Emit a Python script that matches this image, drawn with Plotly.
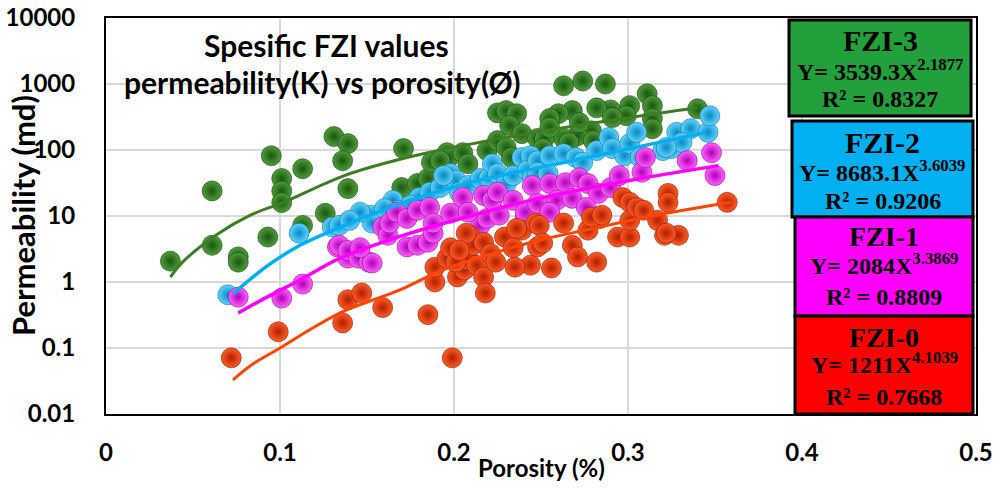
import plotly.graph_objects as go

# ---------------- data ----------------
fzi3_x = [0.037, 0.061, 0.061, 0.076, 0.076, 0.093, 0.095, 0.101, 0.101, 0.101, 0.113, 0.113, 0.126,
          0.131, 0.139, 0.136, 0.139, 0.171, 0.170, 0.179, 0.185, 0.187, 0.196, 0.197, 0.205, 0.208,
          0.192, 0.219, 0.225, 0.225, 0.230, 0.236, 0.232, 0.239, 0.230, 0.233, 0.248, 0.263, 0.274,
          0.287, 0.311, 0.314, 0.301, 0.290, 0.282, 0.268, 0.260, 0.255, 0.340, 0.314, 0.314, 0.299,
          0.291, 0.279, 0.271, 0.263, 0.252, 0.251, 0.255, 0.272, 0.280, 0.266]
fzi3_y = [2.07, 3.6, 24, 2.4, 2.0, 4.8, 82, 37, 24, 16, 52, 7.2, 11,
          160, 125, 69, 26, 105, 27, 31, 37, 65, 91, 77, 91, 62,
          69, 98, 139, 365, 395, 355, 235, 177, 109, 77, 150, 940, 1110,
          1000, 710, 470, 470, 405, 435, 395, 355, 300, 420, 300, 210, 330,
          310, 195, 165, 150, 150, 105, 220, 260, 139, 130]

fzi2_x = [0.070, 0.111, 0.130, 0.134, 0.152, 0.153, 0.165, 0.168, 0.180, 0.186, 0.192, 0.198, 0.201,
          0.203, 0.194, 0.208, 0.215, 0.220, 0.222, 0.225, 0.230, 0.234, 0.239, 0.244, 0.242, 0.245,
          0.248, 0.248, 0.254, 0.255, 0.263, 0.270, 0.274, 0.282, 0.289, 0.291, 0.298, 0.301, 0.305,
          0.307, 0.320, 0.325, 0.328, 0.336, 0.346, 0.347, 0.331, 0.322, 0.146, 0.140, 0.175, 0.160]
fzi2_y = [0.64, 5.5, 6.8, 7.2, 10.3, 7.8, 17.3, 12.2, 19, 23, 27, 44, 35,
          23, 41, 29, 37, 38, 62, 44, 31, 41, 77, 82, 49, 38,
          69, 46, 44, 82, 88, 77, 65, 98, 155, 105, 82, 125, 185,
          77, 98, 105, 185, 210, 185, 330, 130, 109, 11.4, 8.6, 14.5, 13]

fzi1_x = [0.076, 0.101, 0.113, 0.133, 0.139, 0.134, 0.139, 0.145, 0.151, 0.153, 0.159, 0.162, 0.173,
          0.179, 0.185, 0.188, 0.215, 0.219, 0.226, 0.241, 0.163, 0.167, 0.173, 0.179, 0.186, 0.188,
          0.198, 0.205, 0.208, 0.217, 0.222, 0.225, 0.234, 0.241, 0.245, 0.248, 0.255, 0.264, 0.272,
          0.277, 0.283, 0.290, 0.295, 0.308, 0.310, 0.334, 0.348, 0.350, 0.259, 0.268, 0.276, 0.255,
          0.146]
fzi1_y = [0.59, 0.57, 0.93, 3.4, 2.3, 3.6, 3.0, 2.3, 2.0, 1.94, 6.8, 5.1, 3.4,
          3.6, 4.0, 5.5, 7.2, 9.2, 10.3, 9.6, 7.8, 11.4, 9.2, 12.2, 13.5, 7.8,
          11, 19, 11.4, 20.5, 17.3, 23, 17.3, 11.4, 29, 15.5, 31, 32, 38,
          31, 22, 27, 41, 46, 77, 69, 91, 41, 17.3, 18.5, 13.5, 11.4,
          3.3]

fzi0_x = [0.072, 0.099, 0.136, 0.139, 0.147, 0.159, 0.185, 0.199, 0.189, 0.189, 0.196, 0.198, 0.202,
          0.206, 0.209, 0.208, 0.213, 0.217, 0.218, 0.211, 0.217, 0.221, 0.229, 0.234, 0.239, 0.244,
          0.235, 0.248, 0.207, 0.236, 0.247, 0.249, 0.251, 0.256, 0.268, 0.271, 0.282, 0.277, 0.284,
          0.294, 0.301, 0.301, 0.317, 0.321, 0.329, 0.263, 0.279, 0.285, 0.297, 0.301, 0.305, 0.309,
          0.323, 0.323, 0.357, 0.322, 0.201, 0.203, 0.224]
fzi0_y = [0.071, 0.176, 0.24, 0.54, 0.68, 0.41, 0.32, 0.071, 1.0, 1.68, 2.3, 3.3, 1.19,
          1.52, 5.1, 2.15, 1.8, 1.19, 0.68, 3.6, 4.0, 2.7, 4.8, 3.3, 6.1, 1.8,
          1.68, 3.4, 5.5, 6.5, 7.8, 7.2, 3.9, 1.63, 3.6, 2.4, 2.0, 6.1, 9.2,
          4.8, 4.8, 8.6, 8.6, 5.1, 5.1, 7.8, 9.6, 10.3, 19, 16.1, 13.5, 12.2,
          22, 16.1, 16.1, 5.5, 2.0, 3.0, 2.0]

# trend lines
trend3_x = [0.037, 0.044, 0.064, 0.083, 0.102, 0.137, 0.173, 0.211, 0.247, 0.301, 0.340]
trend3_y = [1.19, 2.0, 5.3, 10.3, 16.1, 41, 77, 125, 185, 310, 435]
trend2_x = [0.073, 0.0925, 0.1115, 0.1305, 0.173, 0.211, 0.249, 0.301, 0.345]
trend2_y = [0.66, 1.74, 3.6, 6.1, 16.6, 33, 54, 105, 185]
trend1_x = [0.076, 0.0925, 0.1115, 0.1345, 0.169, 0.215, 0.249, 0.307, 0.352]
trend1_y = [0.34, 0.59, 1.07, 2.3, 4.9, 11, 18.5, 37, 58]
trend0_x = [0.073, 0.083, 0.100, 0.121, 0.137, 0.169, 0.192, 0.221, 0.249, 0.278, 0.313, 0.359]
trend0_y = [0.033, 0.054, 0.10, 0.217, 0.365, 0.76, 1.46, 2.64, 4.3, 6.3, 9.9, 16.1]

x_ticks = [0, 0.1, 0.2, 0.3, 0.4, 0.5]
x_ticktext = ["0", "0.1", "0.2", "0.3", "0.4", "0.5"]
y_ticks = [0.01, 0.1, 1, 10, 100, 1000, 10000]
y_ticktext = ["0.01", "0.1", "1", "10", "100", "1000", "10000"]

legend_names = ["FZI-3", "FZI-2", "FZI-1", "FZI-0"]
legend_eq = ["Y= 3539.3X<sup>2.1877</sup>", "Y= 8683.1X<sup>3.6039</sup>",
             "Y= 2084X<sup>3.3869</sup>", "Y= 1211X<sup>4.1039</sup>"]
legend_r2 = ["R² = 0.8327", "R² = 0.9206", "R² = 0.8809", "R² = 0.7668"]

# ---------------- figure ----------------
W, H = 998, 489
L, R, T, B = 106, 22, 18, 75
pw, ph = W - L - R, H - T - B


def px(xp):
    return (xp - L) / pw


def py(yp):
    return (H - B - yp) / ph


fig = go.Figure()

series = [
    (fzi3_x, fzi3_y, "#4E9E3A", "#1B5511", "#173F0E"),
    (fzi2_x, fzi2_y, "#62D4FF", "#0489C4", "#06709E"),
    (fzi1_x, fzi1_y, "#FF62FF", "#B000B8", "#8E0094"),
    (fzi0_x, fzi0_y, "#FF5C26", "#B21E00", "#861600"),
]
for xs, ys, c0, c1, lc in series:
    fig.add_trace(go.Scatter(
        x=xs, y=ys, mode="markers", showlegend=False,
        marker=dict(size=20, color=c0, gradient=dict(type="radial", color=c1),
                    line=dict(width=0.6, color=lc)),
    ))

trends = [
    (trend3_x, trend3_y, "#3D7E22", 3),
    (trend2_x, trend2_y, "#00B0F0", 3.5),
    (trend1_x, trend1_y, "#FF00FF", 3.5),
    (trend0_x, trend0_y, "#FF4500", 3),
]
for xs, ys, c, w in trends:
    fig.add_trace(go.Scatter(x=xs, y=ys, mode="lines", showlegend=False,
                             line=dict(color=c, width=w, shape="spline")))

axis_font = dict(family="Lato", size=24, color="black", weight="bold")
fig.update_xaxes(range=[0, 0.5], tickvals=x_ticks, ticktext=x_ticktext, tickfont=axis_font,
                 showgrid=True, gridcolor="#D9D9D9", gridwidth=1.5, zeroline=False,
                 showline=True, linecolor="black", linewidth=2, mirror=True,
                 ticks="", ticklabelstandoff=16, automargin=False)
fig.update_yaxes(type="log", range=[-2, 4], tickvals=y_ticks, ticktext=y_ticktext, tickfont=axis_font,
                 showgrid=True, gridcolor="#D9D9D9", gridwidth=1.5, zeroline=False,
                 showline=True, linecolor="black", linewidth=2, mirror=True,
                 ticks="", ticklabelstandoff=24, automargin=False)

annotations = []


def note(xp, yp, text, family, size, angle=0):
    annotations.append(dict(x=px(xp), y=py(yp), xref="paper", yref="paper", showarrow=False,
                            xanchor="center", yanchor="middle", text=text, textangle=angle,
                            font=dict(family=family, size=size, color="black", weight="bold")))


# chart title
note(326, 45, "Spesific FZI values", "Lato", 30)
note(322, 82, "permeability(K) vs porosity(Ø)", "Lato", 30)
# axis titles
note(541, 467, "Porosity (%)", "Lato", 24)
note(23, 216, "Permeability (md)", "Lato", 31, -90)

# legend boxes
boxes = [(789, 971, 20, 116, "#22A03C"), (792, 973, 121, 217, "#00B0F0"),
         (795, 973, 217, 316, "#FF00FF"), (795, 973, 316, 414, "#FF0000")]
line_y = [(41, 70, 99), (142, 171, 201), (237, 264, 297), (337, 363, 397)]
name_size = [30, 30, 28, 28]
shapes = []
for i, (x0, x1, y0, y1, col) in enumerate(boxes):
    shapes.append(dict(type="rect", xref="paper", yref="paper", x0=px(x0), x1=px(x1), y0=py(y1), y1=py(y0),
                       fillcolor=col, line=dict(color="black", width=3), layer="above"))
    cx = (x0 + x1) / 2
    serif = "Liberation Serif"
    note(cx, line_y[i][0], legend_names[i], serif, name_size[i])
    note(cx, line_y[i][1], legend_eq[i], serif, 24)
    note(cx, line_y[i][2], legend_r2[i], serif, 24)

fig.update_layout(width=W, height=H, margin=dict(l=L, r=R, t=T, b=B),
                  paper_bgcolor="white", plot_bgcolor="white",
                  annotations=annotations, shapes=shapes, showlegend=False)

fig.write_html("out.html")
